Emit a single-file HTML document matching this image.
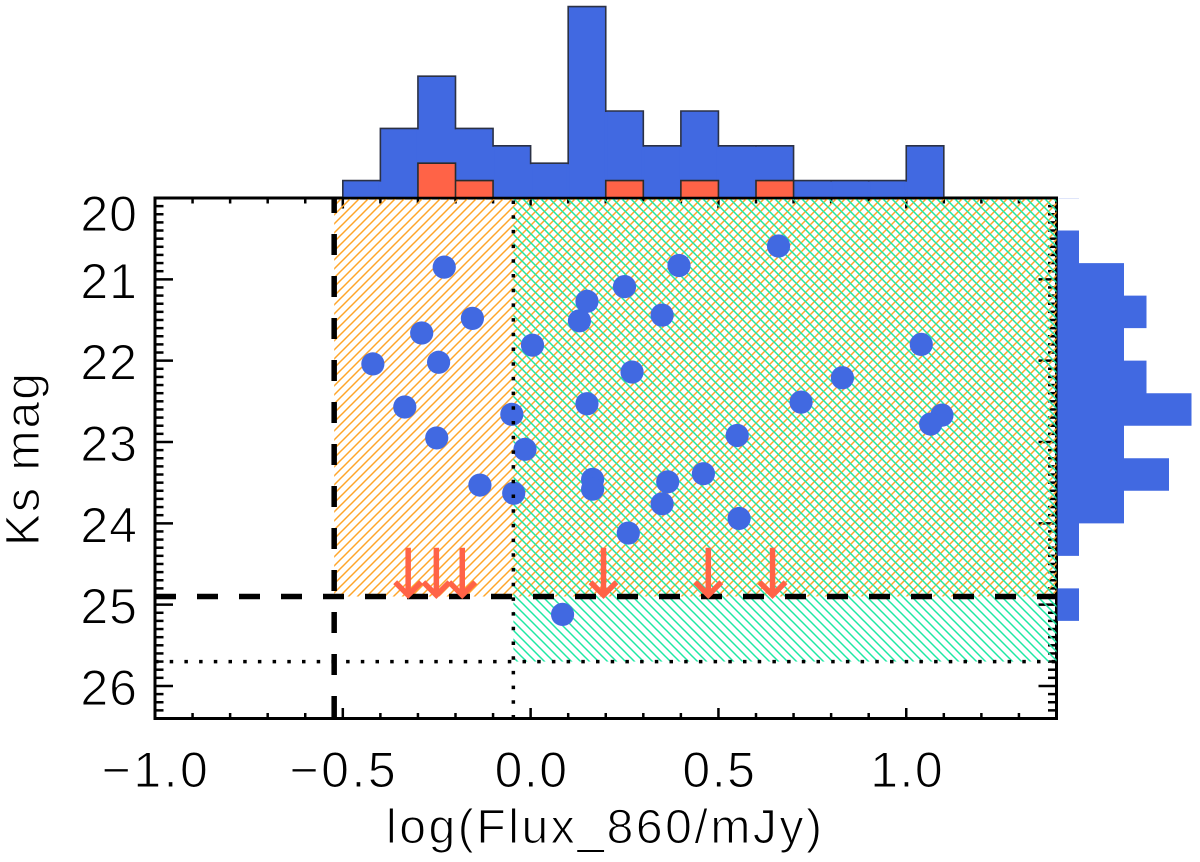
<!DOCTYPE html>
<html lang="en">
<head>
<meta charset="utf-8">
<title>Ks mag vs log flux</title>
<style>
html,body{margin:0;padding:0;background:#fff;width:1200px;height:862px;overflow:hidden}
svg{display:block}
text{font-family:"Liberation Sans",sans-serif;fill:#000;stroke:#fff;stroke-width:1.1px;paint-order:normal}
</style>
</head>
<body>
<svg id="chart" xmlns="http://www.w3.org/2000/svg" width="1200" height="862" viewBox="0 0 1200 862">
<defs>
<pattern id="hatch-orange" width="9" height="9" patternUnits="userSpaceOnUse">
<path d="M-1 1L1 -1M0 9L9 0M8 10L10 8" stroke="#ffa52a" stroke-width="1.5"/>
</pattern>
<pattern id="hatch-green" width="9" height="9" patternUnits="userSpaceOnUse">
<path d="M-1 8L1 10M0 0L9 9M8 -1L10 1" stroke="#1fe8a4" stroke-width="1.5"/>
</pattern>
</defs>
<g id="axes"></g>
<g id="regions"></g>
<g id="top-hist"></g>
<g id="right-hist"></g>
<g id="points"></g>
<g id="limits"></g>
<g id="arrows"></g>
<g id="labels"></g>
</svg>
<script>
// Tick values
const xTickLabels = [-1.0, -0.5, 0.0, 0.5, 1.0];
const yTickLabels = [20, 21, 22, 23, 24, 25, 26];
// Scatter series
const pointFlux = [0.66,-0.23,0.395,0.25,0.15,-0.155,0.13,0.35,-0.29,1.04,0.005,-0.42,-0.245,0.27,0.83,-0.335,0.15,0.72,-0.05,1.095,1.065,0.55,-0.25,-0.015,0.46,0.365,0.165,0.165,-0.135,-0.045,0.35,0.555,0.26,0.085];
const pointMag = [20.59,20.85,20.83,21.09,21.27,21.48,21.51,21.44,21.66,21.80,21.81,22.04,22.02,22.14,22.21,22.57,22.53,22.51,22.66,22.67,22.78,22.92,22.95,23.09,23.39,23.49,23.46,23.58,23.53,23.63,23.76,23.94,24.12,25.12];
// Upper limit arrows
const arrowFlux = [-0.326,-0.251,-0.182,0.194,0.473,0.644];
const arrowTopMag = 24.3;
const arrowTipMag = 24.92;
// Top histogram (flux), bins start at -0.5 with width 0.1
const fluxBinStart = -0.5;
const fluxBinWidth = 0.1;
const fluxCounts = [1,4,7,4,3,2,11,5,3,5,3,3,1,1,1,3];
const fluxRedCounts = [0,0,2,1,0,0,0,1,0,1,0,1,0,0,0,0];
// Right histogram (magnitude), bins start at 20 with width 0.4
const magBinStart = 20;
const magBinWidth = 0.4;
const magCounts = [0,1,3,4,3,4,6,3,5,3,1,0,1];
// Selection limits
const fluxLimit = -0.523;
const fluxLimit2 = -0.046;
const magLimit = 24.9;
const magLimit2 = 25.7;
const xMin = -1.0, xMax = 1.4, yMin = 20, yMax = 26.4;

const plotLeft = 155, plotRight = 1056.5, plotTop = 198, plotBottom = 718.5;
const X = v => plotLeft + (v - xMin) / (xMax - xMin) * (plotRight - plotLeft);
const Y = v => plotTop + (v - yMin) / (yMax - yMin) * (plotBottom - plotTop);
const topH = c => plotTop - c * 17.4;
const rightW = c => plotRight + c * 22.5;

const NS = 'http://www.w3.org/2000/svg';
function mk(parent, tag, attrs, txt) {
  const el = document.createElementNS(NS, tag);
  for (const k in attrs) el.setAttribute(k, attrs[k]);
  if (txt !== undefined) el.textContent = txt;
  document.getElementById(parent).appendChild(el);
  return el;
}
let el;

// Ticks
for (let i = 0; i <= 24; i++) {
  const v = xMin + i * 0.1;
  const major = i % 5 === 0;
  const len = major ? 10.5 : 5.5;
  el = mk('axes', 'line', {x1: X(v), x2: X(v), y1: plotBottom, y2: plotBottom - len, stroke: '#000', 'stroke-width': 2.5});
  
  
  el = mk('axes', 'line', {x1: X(v), x2: X(v), y1: plotTop, y2: plotTop + len, stroke: '#000', 'stroke-width': 2.5});
  
  
}
for (let i = 0; i <= 64; i++) {
  const v = yMin + i * 0.1;
  const major = i % 10 === 0;
  const len = major ? 18 : 8.5;
  el = mk('axes', 'line', {x1: plotLeft, x2: plotLeft + len, y1: Y(v), y2: Y(v), stroke: '#000', 'stroke-width': 2.5});
  
  
  el = mk('axes', 'line', {x1: plotRight, x2: plotRight - len, y1: Y(v), y2: Y(v), stroke: '#000', 'stroke-width': 2.5});
  
  
}
// Frame
el = mk('axes', 'rect', {x: plotLeft, y: plotTop, width: plotRight - plotLeft, height: plotBottom - plotTop, fill: 'none', stroke: '#000', 'stroke-width': 3});



// Hatched regions
el = mk('regions', 'rect', {x: X(fluxLimit), y: plotTop, width: plotRight - X(fluxLimit), height: Y(magLimit) - plotTop, fill: 'url(#hatch-orange)'});


el = mk('regions', 'rect', {x: X(fluxLimit2), y: plotTop, width: plotRight - X(fluxLimit2), height: Y(magLimit2) - plotTop, fill: 'url(#hatch-green)'});



// Step outline helper for the top histogram
function topPath(counts) {
  let d = '';
  counts.forEach((c, i) => {
    if (!c) return;
    const x0 = X(fluxBinStart + i * fluxBinWidth), x1 = X(fluxBinStart + (i + 1) * fluxBinWidth);
    d += `M${x0} ${plotTop}L${x0} ${topH(c)}L${x1} ${topH(c)}L${x1} ${plotTop}Z`;
  });
  return d;
}
el = mk('top-hist', 'path', {d: topPath(fluxCounts), fill: '#4169e1', stroke: '#2b3145', 'stroke-width': 1.6, 'stroke-linejoin': 'miter'});


fluxCounts.forEach((c, i) => {
  if (i === 0) return;
  const x = X(fluxBinStart + i * fluxBinWidth), h = topH(Math.min(c, fluxCounts[i - 1]));
  const bar = mk('top-hist', 'rect', {x: x - 1.5, y: h + 1, width: 3, height: plotTop - h - 1, fill: '#4169e1'});
  
  
});
el = mk('top-hist', 'path', {d: topPath(fluxRedCounts), fill: '#ff6347', stroke: '#2b2b2b', 'stroke-width': 1.6});


el = mk('top-hist', 'line', {x1: plotLeft, x2: plotRight, y1: plotTop, y2: plotTop, stroke: '#000', 'stroke-width': 2.5});



// Right histogram: one continuous step shape so adjoining bins have no seams
let magD = `M${plotRight + 1} ${Y(magBinStart)}`;
magCounts.forEach((c, i) => {
  const w = c ? rightW(c) : plotRight + 1;
  magD += `L${w} ${Y(magBinStart + i * magBinWidth)}L${w} ${Y(magBinStart + (i + 1) * magBinWidth)}`;
});
magD += `L${plotRight + 1} ${Y(magBinStart + magCounts.length * magBinWidth)}Z`;
el = mk('right-hist', 'path', {d: magD, fill: '#4169e1'});


el = mk('right-hist', 'line', {x1: plotRight + 2, x2: rightW(1), y1: plotTop + .5, y2: plotTop + .5, stroke: '#dfe5fa', 'stroke-width': 1});



// Points
pointFlux.forEach((f, i) => {
  const p = mk('points', 'circle', {cx: X(f), cy: Y(pointMag[i]), r: 11.6, fill: '#4169e1'});
  
  
});

// Limit lines
el = mk('limits', 'line', {x1: X(fluxLimit), x2: X(fluxLimit), y1: plotBottom - 1.5, y2: plotTop, stroke: '#000', 'stroke-width': 5.5, 'stroke-dasharray': '21 21'});


el = mk('limits', 'line', {x1: plotLeft, x2: plotRight, y1: Y(magLimit), y2: Y(magLimit), stroke: '#000', 'stroke-width': 5.5, 'stroke-dasharray': '21 21'});


el = mk('limits', 'line', {x1: X(fluxLimit2), x2: X(fluxLimit2), y1: plotBottom, y2: plotTop, stroke: '#000', 'stroke-width': 3.5, 'stroke-dasharray': '3.5 11.2'});


el = mk('limits', 'line', {x1: plotLeft, x2: plotRight, y1: Y(magLimit2), y2: Y(magLimit2), stroke: '#000', 'stroke-width': 3.5, 'stroke-dasharray': '3.5 11.2'});



// Arrows
arrowFlux.forEach(f => {
  const x = X(f), y0 = Y(arrowTopMag), y1 = Y(arrowTipMag);
  const a = mk('arrows', 'path', {d: `M${x} ${y0}L${x} ${y1 - 2}M${x - 13} ${y1 - 16}L${x} ${y1 - 3}L${x + 13} ${y1 - 16}`, fill: 'none', stroke: '#ff6347', 'stroke-width': 5.5});
  
  
});

// Tick labels
xTickLabels.forEach(v => {
  const s = (v < 0 ? '\u2212' : '') + Math.abs(v).toFixed(1);
  const t = mk('labels', 'text', {x: X(v) + 1, y: 787, 'text-anchor': 'middle', 'font-size': 50, 'letter-spacing': v < 0 ? 2.5 : 1.5}, s);
  
  
});
yTickLabels.forEach(v => {
  const base = Y(v) + (v === yMin ? 33 : 19);
  const t = mk('labels', 'text', {x: 138, y: base, 'text-anchor': 'end', 'font-size': 50, 'letter-spacing': 1}, String(v));
  
  
});
el = mk('labels', 'text', {x: 386, y: 843, 'font-size': 48, textLength: 436, lengthAdjust: 'spacing'}, 'log(Flux_860/mJy)');


el = mk('labels', 'text', {transform: 'translate(39,546) rotate(-90)', x: 0, y: 0, 'font-size': 48, textLength: 173, lengthAdjust: 'spacing'}, 'Ks mag');


</script>
</body>
</html>
